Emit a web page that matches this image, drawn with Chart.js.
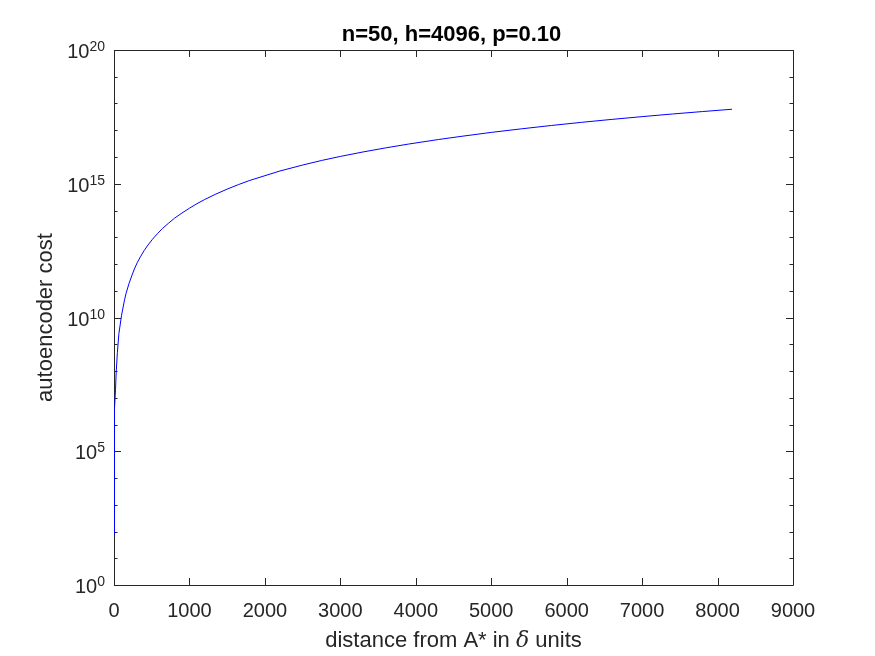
<!DOCTYPE html>
<html>
<head>
<meta charset="utf-8">
<script src="https://cdn.jsdelivr.net/npm/chart.js@4/dist/chart.umd.min.js"></script>
<style>
  html, body { margin: 0; padding: 0; background: #fff; }
</style>
</head>
<body>
<canvas id="myChart" width="875" height="656"></canvas>
<script>
const TITLE = 'n=50, h=4096, p=0.10';
const X_LABEL = ['distance from A* in ', '\u03B4', ' units'];
const Y_LABEL = 'autoencoder cost';

// distance (x) and cost (y)
const distance = [1, 2, 4, 8, 13, 20, 30, 45, 65, 100, 140, 160, 200, 240, 270, 310, 350, 400, 450,
  510, 575, 640, 720, 800, 900, 1000, 1100, 1200, 1350, 1500, 1650, 1800, 2000, 2200, 2500, 2750, 3000,
  3300, 3600, 3900, 4300, 4600, 5000, 5400, 5800, 6200, 6600, 7000, 7400, 7800, 8192];
const cost = [79, 2e3, 3.2e4, 5e5, 4e6, 2e7, 1e8, 5e8, 2.5e9, 1.2e10, 4.6e10, 8e10, 1.9e11, 3.9e11, 6.5e11,
  1.15e12, 1.85e12, 3.2e12, 5.1e12, 8.4e12, 1.35e13, 2.1e13, 3.3e13, 5.1e13, 8e13, 1.22e14, 1.8e14,
  2.56e14, 4.1e14, 6.3e14, 9.3e14, 1.33e15, 2e15, 3e15, 5e15, 7.4e15, 1.05e16, 1.54e16, 2.19e16,
  3.03e16, 4.5e16, 5.9e16, 8.3e16, 1.13e17, 1.51e17, 1.98e17, 2.55e17, 3.23e17, 4.05e17, 5e17, 6.1e17];

const xTicks = [0, 1000, 2000, 3000, 4000, 5000, 6000, 7000, 8000, 9000];
const yDecades = [0, 1, 2, 3, 4, 5, 6, 7, 8, 9, 10, 11, 12, 13, 14, 15, 16, 17, 18, 19, 20];
const yLabelDecades = [0, 5, 10, 15, 20];

const FONT = "'Liberation Sans', Arial, sans-serif";
const AXIS = '#262626';

const matlabAxes = {
  id: 'matlabAxes',
  beforeDatasetsDraw(chart) {
    const ctx = chart.ctx;
    const { left, right, top, bottom } = chart.chartArea;
    const xs = chart.scales.x;
    const ys = chart.scales.y;
    ctx.save();
    ctx.strokeStyle = AXIS;
    ctx.lineWidth = 1;

    // box
    ctx.beginPath();
    ctx.moveTo(left + 0.5, bottom + 0.5);
    ctx.lineTo(left + 0.5, top + 0.5);
    ctx.lineTo(right + 0.5, top + 0.5);
    ctx.lineTo(right + 0.5, bottom + 0.5);
    ctx.lineTo(left + 0.5, bottom + 0.5);
    ctx.stroke();

    // inward ticks
    ctx.beginPath();
    xTicks.forEach(v => {
      const px = Math.round(xs.getPixelForValue(v)) + 0.5;
      ctx.moveTo(px, bottom);
      ctx.lineTo(px, bottom - 7);
      ctx.moveTo(px, top);
      ctx.lineTo(px, top + 7);
    });
    yDecades.forEach(d => {
      const py = Math.round(ys.getPixelForValue(Math.pow(10, d))) + 0.5;
      const len = d % 5 === 0 ? 7 : 3.5;
      ctx.moveTo(left, py);
      ctx.lineTo(left + len, py);
      ctx.moveTo(right, py);
      ctx.lineTo(right - len, py);
    });
    ctx.stroke();
    ctx.restore();
  },
  afterDraw(chart) {
    const ctx = chart.ctx;
    const { left, right, top, bottom } = chart.chartArea;
    const ys = chart.scales.y;
    ctx.save();
    ctx.fillStyle = AXIS;

    // y tick labels with superscripts
    yLabelDecades.forEach(d => {
      const py = ys.getPixelForValue(Math.pow(10, d));
      const sup = String(d);
      ctx.font = '14px ' + FONT;
      const supW = ctx.measureText(sup).width;
      ctx.textAlign = 'right';
      ctx.textBaseline = 'alphabetic';
      ctx.fillText(sup, left - 9, py + 1);
      ctx.font = '20px ' + FONT;
      ctx.fillText('10', left - 9 - supW, py + 8);
    });

    // title
    ctx.font = 'bold 22px ' + FONT;
    ctx.textAlign = 'center';
    ctx.fillStyle = '#000';
    ctx.fillText(TITLE, (left + right) / 2 - 2, 41);

    // x label with italic delta
    ctx.fillStyle = AXIS;
    const fonts = ['22px ' + FONT, "italic 22px 'DejaVu Serif', 'Liberation Serif', serif", '22px ' + FONT];
    let total = 0;
    const widths = X_LABEL.map((s, i) => {
      ctx.font = fonts[i];
      const w = ctx.measureText(s).width;
      total += w;
      return w;
    });
    let cx = (left + right) / 2 - total / 2;
    ctx.textAlign = 'left';
    X_LABEL.forEach((s, i) => {
      ctx.font = fonts[i];
      ctx.fillText(s, cx, 647);
      cx += widths[i];
    });

    // y label
    ctx.font = '22px ' + FONT;
    ctx.translate(52, (top + bottom) / 2);
    ctx.rotate(-Math.PI / 2);
    ctx.textAlign = 'center';
    ctx.fillText(Y_LABEL, 0, 0);
    ctx.restore();
  }
};

const config = {
  type: 'line',
  data: {
    datasets: [{
      label: Y_LABEL,
      data: distance.map((d, i) => ({ x: d, y: cost[i] })),
      borderColor: '#0000ff',
      borderWidth: 1,
      pointRadius: 0,
      tension: 0,
      fill: false
    }]
  },
  options: {
    responsive: false,
    animation: false,
    layout: {
      padding: { top: 50, right: 82, left: 0, bottom: 0 }
    },
    scales: {
      x: {
        type: 'linear',
        min: 0,
        max: 9000,
        grid: { display: false, drawTicks: false },
        border: { display: false },
        afterBuildTicks: scale => { scale.ticks = xTicks.map(v => ({ value: v })); },
        afterFit: scale => { scale.height = 71; },
        ticks: {
          color: AXIS,
          padding: 14,
          maxRotation: 0,
          autoSkip: false,
          font: { family: FONT, size: 20 },
          callback: value => String(value)
        }
      },
      y: {
        type: 'logarithmic',
        min: 1,
        max: 1e20,
        grid: { display: false, drawTicks: false },
        border: { display: false },
        afterBuildTicks: scale => { scale.ticks = yDecades.map(d => ({ value: Math.pow(10, d) })); },
        afterFit: scale => { scale.width = 114; },
        ticks: { display: false }
      }
    },
    plugins: {
      legend: { display: false },
      tooltip: { enabled: false }
    }
  },
  plugins: [matlabAxes]
};

new Chart(document.getElementById('myChart'), config);
</script>
</body>
</html>
